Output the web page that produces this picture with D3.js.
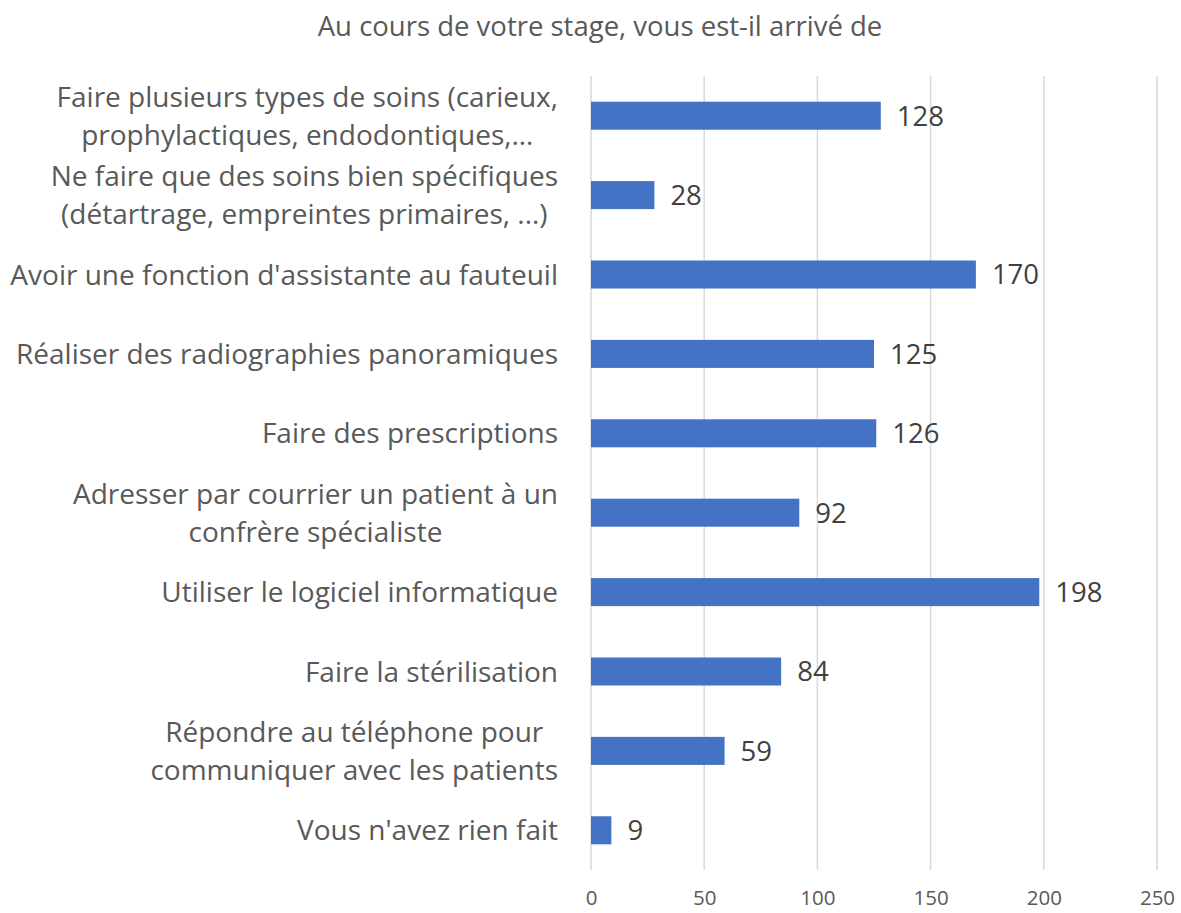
<!DOCTYPE html>
<html>
<head>
<meta charset="utf-8">
<script src="https://cdn.jsdelivr.net/npm/d3@7"></script>
<style>
  body { margin: 0; background: #fff; }
  text { font-family: "Open Sans", sans-serif; }
</style>
</head>
<body>
<svg id="chart" width="1181" height="913"></svg>
<script>
// Data
const title = "Au cours de votre stage, vous est-il arrivé de";
const categories = [
  "Faire plusieurs types de soins (carieux,\nprophylactiques, endodontiques,…",
  "Ne faire que des soins bien spécifiques\n(détartrage, empreintes primaires, ...)",
  "Avoir une fonction d'assistante au fauteuil",
  "Réaliser des radiographies panoramiques",
  "Faire des prescriptions",
  "Adresser par courrier un patient à un\nconfrère spécialiste",
  "Utiliser le logiciel informatique",
  "Faire la stérilisation",
  "Répondre au téléphone pour \ncommuniquer avec les patients",
  "Vous n'avez rien fait"
];
const values = [128, 28, 170, 125, 126, 92, 198, 84, 59, 9];
const ticks = [0, 50, 100, 150, 200, 250];

const svg = d3.select("#chart"),
  margin = {top: 76, left: 591, bottom: 43, right: 24},
  width = +svg.attr("width"),
  height = +svg.attr("height");

const x = d3.scaleLinear()
  .domain([0, 250])
  .range([margin.left, width - margin.right]);

const y = d3.scaleBand()
  .domain(categories)
  .range([margin.top, height - margin.bottom])
  .paddingInner(0.647)
  .paddingOuter(0.3235);

// Title
svg.append("text")
  .attr("x", 600)
  .attr("y", 36)
  .attr("text-anchor", "middle")
  .attr("font-size", 27.5)
  .attr("fill", "#595959")
  .text(title);

// Gridlines
svg.append("g")
  .selectAll("line")
  .data(ticks)
  .join("line")
    .attr("x1", d => x(d))
    .attr("x2", d => x(d))
    .attr("y1", margin.top)
    .attr("y2", height - margin.bottom)
    .attr("stroke", "#d9d9d9")
    .attr("stroke-width", 1.5);

// X axis
const xAxis = svg.append("g")
  .attr("transform", `translate(0,${height - margin.bottom})`)
  .call(d3.axisBottom(x).tickValues(ticks).tickSize(0).tickPadding(20));
xAxis.select(".domain").remove();
xAxis.selectAll("text")
  .attr("font-size", 20.5)
  .attr("fill", "#595959")
  .style("font-family", "'Open Sans', sans-serif");

// Bars
svg.append("g")
  .selectAll("rect")
  .data(values)
  .join("rect")
    .attr("x", x(0))
    .attr("y", (d, i) => y(categories[i]))
    .attr("width", d => x(d) - x(0))
    .attr("height", y.bandwidth())
    .attr("fill", "#4472c4");

// Value labels
svg.append("g")
  .selectAll("text")
  .data(values)
  .join("text")
    .attr("x", d => x(d) + 16)
    .attr("y", (d, i) => y(categories[i]) + y.bandwidth() / 2)
    .attr("dy", "0.36em")
    .attr("font-size", 27.5)
    .attr("fill", "#404040")
    .text(d => d);

// Category labels: block right-aligned, lines centred within the block
const fs = 28, lineH = 38, labelRight = 558;
const labels = svg.append("g")
  .selectAll("text")
  .data(categories)
  .join("text")
    .attr("text-anchor", "middle")
    .attr("font-size", fs)
    .attr("fill", "#595959")
    .attr("y", d => y(d) + y.bandwidth() / 2);

labels.each(function(d) {
  const lines = d.split("\n");
  const t = d3.select(this);
  const spans = lines.map((l, j) => t.append("tspan")
    .attr("dy", j === 0 ? (0.36 * fs - (lines.length - 1) * lineH / 2) : lineH)
    .text(l.trim()));
  const maxW = d3.max(spans, s => s.node().getComputedTextLength());
  spans.forEach(s => s.attr("x", labelRight - maxW / 2));
});
</script>
</body>
</html>
